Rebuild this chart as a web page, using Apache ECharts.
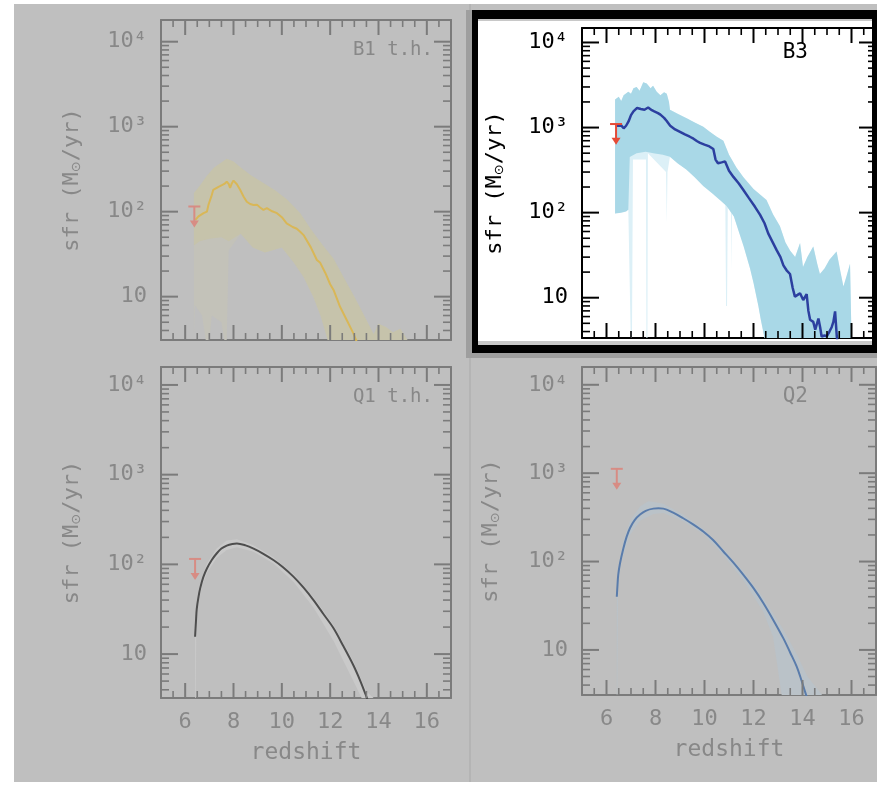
<!DOCTYPE html>
<html>
<head>
<meta charset="utf-8">
<script src="https://cdn.jsdelivr.net/npm/echarts@6/dist/echarts.min.js"></script>
<style>
  html, body { margin: 0; padding: 0; background: #ffffff; }
  #chart { width: 877px; height: 785px; }
</style>
</head>
<body>
<div id="chart"></div>
<script>
// ---------- axis ticks ----------
const redshiftMajorTicks = [6, 8, 10, 12, 14, 16];
const redshiftMinorTicks = [5.5, 6.5, 7, 7.5, 8.5, 9, 9.5, 10.5, 11, 11.5, 12.5, 13, 13.5, 14.5, 15, 15.5, 16.5];
const sfrMajorTicks = [10, 100, 1000, 10000];
const sfrMinorTicks = [4, 5, 6, 7, 8, 9, 20, 30, 40, 50, 60, 70, 80, 90,
  200, 300, 400, 500, 600, 700, 800, 900, 2000, 3000, 4000, 5000, 6000, 7000, 8000, 9000];
const sfrTickLabels = ['10', '10²', '10³', '10⁴'];
const panelNames = ['B1 t.h.', 'B3', 'Q1 t.h.', 'Q2'];

// ---------- B1 t.h. ----------
const b1Redshift = [6.42, 6.55, 6.62, 6.76, 6.9, 6.97, 7.08, 7.16, 7.24, 7.38,
  7.52, 7.62, 7.72, 7.8, 7.86, 7.93, 8.0, 8.14, 8.28, 8.42,
  8.55, 8.69, 8.83, 8.97, 9.1, 9.24, 9.38, 9.6, 9.8, 10.0,
  10.2, 10.45, 10.62, 10.76, 10.9, 11.2, 11.45, 11.59, 11.8, 12.0,
  12.14, 12.41, 12.7, 12.96, 13.2];
const b1Sfr = [80, 88, 91, 96, 100, 122, 150, 180, 187, 196,
  205, 212, 225, 212, 190, 215, 232, 210, 180, 150,
  131, 123, 120, 121, 112, 105, 110, 101, 96, 86,
  73, 66, 63, 58, 53, 38, 27, 25, 19, 14,
  12, 7.6, 5.2, 3.7, 2.5];
const b1BandUpper = [[6.36, 165], [6.6, 200], [6.9, 265], [7.2, 330], [7.5, 380], [7.72, 420], [8.0, 390],
  [8.3, 330], [8.7, 270], [9.2, 220], [9.7, 180], [10.2, 140], [10.76, 96], [11.2, 62], [11.7, 40],
  [12.14, 28], [12.6, 16], [13.0, 10], [13.5, 5.3], [13.8, 3.6], [14.0, 4.8], [14.3, 4.4], [14.6, 3.8],
  [14.9, 4.2], [15.2, 1]];
const b1BandLower = [[6.36, 40], [6.6, 45], [7.0, 48], [7.5, 50], [7.8, 45], [8.3, 55], [8.8, 38], [9.3, 33],
  [10.0, 38], [10.5, 25], [10.9, 17], [11.3, 10], [11.6, 6], [11.9, 3], [12.1, 1], [15.2, 1]];
const b1OutlierLower = [[6.36, 1], [6.4, 8], [6.7, 6], [6.85, 1], [7.0, 1], [7.1, 6], [7.5, 5], [7.62, 1],
  [7.72, 1], [7.8, 35], [8.3, 55], [8.8, 38], [9.3, 33], [10.0, 38], [10.5, 25], [10.9, 17], [11.3, 10],
  [11.6, 6], [11.9, 3], [12.1, 1], [15.2, 1]];
const b1Limit = [6.38, 115, 65];

// ---------- B3 ----------
const b3Redshift = [6.42, 6.5, 6.6, 6.7, 6.8, 6.9, 7.0, 7.1, 7.25, 7.4,
  7.55, 7.7, 7.85, 7.95, 8.1, 8.2, 8.35, 8.45, 8.6, 8.8,
  9.0, 9.2, 9.4, 9.55, 9.7, 9.82, 10.0, 10.2, 10.36, 10.45,
  10.55, 10.7, 10.84, 11.0, 11.18, 11.4, 11.58, 11.8, 12.06, 12.27,
  12.45, 12.6, 12.78, 12.95, 13.1, 13.22, 13.35, 13.49, 13.6, 13.69,
  13.8, 13.9, 14.03, 14.17, 14.24, 14.31, 14.44, 14.52, 14.65, 14.72,
  14.78, 14.9, 14.99, 15.1, 15.19, 15.26, 15.33, 15.4, 15.46];
const b3Sfr = [1050, 1100, 1060, 980, 1050, 1180, 1400, 1550, 1700, 1650,
  1620, 1720, 1600, 1550, 1480, 1420, 1300, 1200, 1050, 950,
  890, 830, 780, 740, 690, 660, 630, 600, 560, 420,
  380, 390, 400, 310, 263, 220, 186, 150, 117, 94,
  75, 57, 45, 36, 30, 24, 21, 19, 13, 10.3,
  10.8, 11.3, 9.4, 11, 7, 5.5, 5.2, 4.2, 5.7, 4.5,
  3.5, 3.6, 3.5, 4, 4.5, 5.2, 6.9, 3.5, 2.5];
const b3BandUpper = [[6.35, 2130], [6.5, 2300], [6.6, 2050], [6.7, 2400], [6.89, 2640], [7.0, 2500],
  [7.1, 2900], [7.23, 3000], [7.35, 2700], [7.5, 3400], [7.64, 3300], [7.8, 2900], [7.9, 3100],
  [8.05, 2640], [8.2, 2400], [8.35, 2600], [8.46, 2500], [8.55, 2000], [8.59, 1620], [8.9, 1450],
  [9.27, 1290], [9.6, 1150], [9.95, 1020], [10.2, 900], [10.5, 780], [10.77, 700], [11.0, 480],
  [11.3, 340], [11.58, 263], [12.0, 190], [12.53, 141], [12.8, 95], [13.08, 69], [13.3, 45],
  [13.49, 36], [13.7, 30], [13.9, 44], [14.02, 23], [14.2, 30], [14.44, 40], [14.6, 25], [14.71, 19],
  [14.9, 22], [15.1, 28], [15.39, 35], [15.55, 20], [15.67, 13.5], [15.8, 18], [15.94, 25], [16.0, 1]];
const b3BandLower = [[6.35, 98], [6.6, 100], [6.8, 103], [6.89, 108], [6.95, 450], [7.23, 500],
  [7.6, 520], [7.91, 500], [8.3, 480], [8.59, 455], [8.9, 380], [9.27, 320], [9.6, 260], [9.95, 205],
  [10.3, 170], [10.63, 141], [10.9, 120], [11.2, 90], [11.4, 60], [11.6, 40], [11.86, 22], [12.0, 15],
  [12.2, 8], [12.3, 5.5], [12.45, 1], [16.0, 1]];
const b3OutlierLower = [[6.35, 98], [6.89, 108], [6.99, 1], [7.04, 1], [7.08, 420], [7.61, 420], [7.63, 1],
  [7.67, 1], [7.69, 500], [8.43, 300], [8.46, 75], [8.49, 300], [8.59, 455], [8.9, 380], [9.27, 320],
  [9.6, 260], [9.95, 205], [10.3, 170], [10.63, 141], [10.85, 125], [10.88, 8], [10.92, 8], [10.95, 120],
  [11.08, 100], [11.1, 20], [11.12, 100], [11.2, 90], [11.4, 60], [11.6, 40], [11.86, 22], [12.0, 15],
  [12.2, 8], [12.3, 5.5], [12.45, 1], [16.0, 1]];
const b3Limit = [6.39, 1100, 630];

// ---------- Q1 t.h. ----------
const q1Redshift = [6.41, 6.45, 6.48, 6.55, 6.62, 6.75, 6.9, 7.1, 7.31, 7.5,
  7.72, 7.95, 8.14, 8.5, 8.83, 9.2, 9.65, 10.05, 10.48, 10.9,
  11.31, 11.72, 12.14, 12.55, 12.96, 13.25, 13.51, 13.7];
const q1Sfr = [15.6, 24, 32, 43, 54, 72, 90, 112, 133, 150,
  162, 169, 171, 163, 150, 133, 112, 93, 73, 55,
  40, 28, 19.4, 12.2, 7.5, 5, 3.3, 2.4];
const q1BandUpper = [[6.41, 18], [6.5, 35], [6.62, 62], [6.9, 102], [7.3, 150], [7.72, 185], [8.14, 190],
  [8.83, 163], [9.65, 120], [10.48, 78], [11.31, 43], [12.14, 21], [12.96, 8.3], [13.51, 3.8], [13.8, 2.5]];
const q1BandLower = [[6.41, 1], [6.44, 1], [6.46, 22], [6.55, 38], [6.7, 58], [6.9, 80], [7.3, 118],
  [7.72, 145], [8.14, 155], [8.83, 138], [9.65, 102], [10.48, 64], [11.31, 33], [12.14, 14], [12.96, 5],
  [13.3, 2.8], [13.8, 2.5]];
const q1Limit = [6.41, 115, 67];

// ---------- Q2 ----------
const q2Redshift = [6.42, 6.45, 6.48, 6.55, 6.69, 6.82, 6.96, 7.15, 7.37, 7.6,
  7.91, 8.12, 8.32, 8.7, 9.13, 9.55, 9.95, 10.35, 10.77, 11.18,
  11.58, 12.0, 12.4, 12.8, 13.22, 13.5, 13.76, 13.95, 14.1, 14.3];
const q2Sfr = [40, 55, 71, 95, 141, 190, 240, 295, 340, 375,
  397, 400, 397, 360, 309, 262, 219, 175, 130, 97,
  71, 50, 34, 22, 13.5, 9.3, 6.5, 4.6, 3.4, 2.3];
const q2BandUpper = [[6.42, 45], [6.5, 90], [6.7, 175], [6.96, 290], [7.37, 420], [7.7, 480], [8.0, 470],
  [8.32, 450], [9.13, 340], [9.95, 235], [10.77, 140], [11.58, 78], [12.4, 39], [13.22, 17], [13.76, 9],
  [14.2, 5], [14.8, 3]];
const q2BandLower = [[6.42, 1], [6.44, 1], [6.47, 50], [6.6, 100], [6.96, 200], [7.37, 290], [7.91, 345],
  [8.32, 355], [9.13, 285], [9.95, 205], [10.77, 118], [11.58, 62], [12.4, 27], [12.8, 14], [13.15, 2],
  [14.8, 2]];
const q2Limit = [6.42, 1120, 650];

// ---------- panel styling ----------
const FONT = '"DejaVu Sans Mono", "DejaVu Sans", monospace';
const fadedFrame = '#7b7b7b';
const fadedText = '#888888';
const fadedRed = '#d78c84';
const X_MIN = 5, X_MAX = 17;

const panels = [
  { name: panelNames[0], grid: { left: 161, top: 20, width: 290, height: 320 }, yMin: 3.09, yMax: 18000,
    frame: fadedFrame, text: fadedText, showRedshift: false, nameGap: 78, labelX: 433, labelY: 50, labelSize: 19,
    z: b1Redshift, sfr: b1Sfr, upper: b1BandUpper, lower: b1BandLower, outlierLower: b1OutlierLower,
    limit: b1Limit, lineColor: '#d9b757', lineWidth: 2, bandColor: '#c6c3ab', outlierColor: '#c3c2b9',
    red: fadedRed, smooth: false },
  { name: panelNames[1], grid: { left: 582, top: 28, width: 294, height: 310 }, yMin: 3.36, yMax: 14800,
    frame: '#000000', text: '#000000', showRedshift: false, nameGap: 76, labelX: 808, labelY: 53, labelSize: 21,
    z: b3Redshift, sfr: b3Sfr, upper: b3BandUpper, lower: b3BandLower, outlierLower: b3OutlierLower,
    limit: b3Limit, lineColor: '#2c3f9f', lineWidth: 2.5, bandColor: '#a9d8e7', outlierColor: '#dcf0f7',
    red: '#e64a36', smooth: false },
  { name: panelNames[2], grid: { left: 161, top: 367, width: 290, height: 331 }, yMin: 3.24, yMax: 15850,
    frame: fadedFrame, text: fadedText, showRedshift: true, nameGap: 78, labelX: 433, labelY: 397, labelSize: 19,
    z: q1Redshift, sfr: q1Sfr, upper: q1BandUpper, lower: q1BandLower, limit: q1Limit,
    lineColor: '#4e4e4e', lineWidth: 2, bandColor: '#c9c9c9', red: fadedRed, smooth: true },
  { name: panelNames[3], grid: { left: 582, top: 367, width: 294, height: 328 }, yMin: 3.09, yMax: 15900,
    frame: fadedFrame, text: fadedText, showRedshift: true, nameGap: 80, labelX: 808, labelY: 397, labelSize: 21,
    z: q2Redshift, sfr: q2Sfr, upper: q2BandUpper, lower: q2BandLower, limit: q2Limit,
    lineColor: '#5a7cab', lineWidth: 2, bandColor: '#bac2c8', red: fadedRed, smooth: true }
];

const AXES_PER_GRID = 2;

function frameLine(p) {
  return { show: true, onZero: false, lineStyle: { color: p.frame, width: 2 } };
}

function buildXAxes(p, gi) {
  const common = { type: 'value', gridIndex: gi, min: X_MIN, max: X_MAX, splitLine: { show: false },
    axisTick: { show: false } };
  return [
    Object.assign({}, common, {
      position: 'bottom', axisLine: frameLine(p),
      axisLabel: { show: p.showRedshift, customValues: redshiftMajorTicks, margin: 13,
        color: p.text, fontSize: 22, fontFamily: FONT },
      name: p.showRedshift ? 'redshift' : '', nameLocation: 'middle', nameGap: 44,
      nameTextStyle: { color: p.text, fontSize: 23, fontFamily: FONT }
    }),
    Object.assign({}, common, { position: 'top', axisLine: frameLine(p), axisLabel: { show: false } })
  ];
}

function buildYAxes(p, gi) {
  const common = { type: 'log', logBase: 10, gridIndex: gi, min: p.yMin, max: p.yMax,
    splitLine: { show: false }, axisTick: { show: false } };
  return [
    Object.assign({}, common, {
      position: 'left', axisLine: frameLine(p),
      axisLabel: { show: true, customValues: sfrMajorTicks, margin: 14, color: p.text, fontSize: 22,
        fontFamily: FONT,
        formatter: v => sfrTickLabels[Math.round(Math.log10(v)) - 1] },
      name: 'sfr (M{s|⊙}/yr)', nameLocation: 'middle', nameRotate: 90, nameGap: p.nameGap,
      nameTextStyle: { color: p.text, fontSize: 22, fontFamily: FONT,
        rich: { s: { color: p.text, fontSize: 13, fontFamily: '"DejaVu Sans", sans-serif', verticalAlign: 'bottom' } } }
    }),
    Object.assign({}, common, { position: 'right', axisLine: frameLine(p), axisLabel: { show: false } })
  ];
}

// inward tick marks on the four frame edges, drawn as thin rectangles at the tick values
function tickSeries(p, gi, data, size, offset) {
  return {
    type: 'scatter', xAxisIndex: gi * AXES_PER_GRID, yAxisIndex: gi * AXES_PER_GRID,
    silent: true, z: 6, animation: false, clip: false,
    data: data, symbol: 'rect', symbolSize: size, symbolOffset: offset,
    itemStyle: { color: p.frame, opacity: 1 }
  };
}
function frameTicks(p, gi) {
  return [
    tickSeries(p, gi, redshiftMajorTicks.map(z => [z, p.yMin]), [2, 15], [0, -7.5]),
    tickSeries(p, gi, redshiftMajorTicks.map(z => [z, p.yMax]), [2, 15], [0, 7.5]),
    tickSeries(p, gi, redshiftMinorTicks.map(z => [z, p.yMin]), [1.6, 7], [0, -3.5]),
    tickSeries(p, gi, redshiftMinorTicks.map(z => [z, p.yMax]), [1.6, 7], [0, 3.5]),
    tickSeries(p, gi, sfrMajorTicks.map(v => [X_MIN, v]), [17, 2], [8.5, 0]),
    tickSeries(p, gi, sfrMajorTicks.map(v => [X_MAX, v]), [17, 2], [-8.5, 0]),
    tickSeries(p, gi, sfrMinorTicks.filter(v => v > p.yMin && v < p.yMax).map(v => [X_MIN, v]), [8, 1.6], [4, 0]),
    tickSeries(p, gi, sfrMinorTicks.filter(v => v > p.yMin && v < p.yMax).map(v => [X_MAX, v]), [8, 1.6], [-4, 0])
  ];
}

// keep polygon vertices inside the plotting rectangle
function clampToRect(points, cs) {
  return points.map(pt => [
    Math.min(Math.max(pt[0], cs.x), cs.x + cs.width),
    Math.min(Math.max(pt[1], cs.y), cs.y + cs.height)
  ]);
}

function bandSeries(gi, upper, lower, color, z) {
  return {
    type: 'custom', xAxisIndex: gi * AXES_PER_GRID, yAxisIndex: gi * AXES_PER_GRID,
    silent: true, z: z, animation: false,
    data: [[upper[0][0], upper[0][1]]],
    encode: { x: 0, y: 1 },
    renderItem: function (params, api) {
      const outline = upper.concat(lower.slice().reverse()).map(d => api.coord(d));
      return { type: 'polygon', shape: { points: clampToRect(outline, params.coordSys) },
        style: { fill: color } };
    }
  };
}

function limitSeries(gi, limit, color) {
  return {
    type: 'custom', xAxisIndex: gi * AXES_PER_GRID, yAxisIndex: gi * AXES_PER_GRID,
    silent: true, z: 5, animation: false,
    data: [limit],
    encode: { x: 0, y: [1, 2] },
    renderItem: function (params, api) {
      const top = api.coord([api.value(0), api.value(1)]);
      const tip = api.coord([api.value(0), api.value(2)]);
      return { type: 'group', children: [
        { type: 'line', shape: { x1: top[0] - 6, y1: top[1], x2: top[0] + 6, y2: top[1] },
          style: { stroke: color, lineWidth: 2 } },
        { type: 'line', shape: { x1: top[0], y1: top[1], x2: tip[0], y2: tip[1] - 5 },
          style: { stroke: color, lineWidth: 2 } },
        { type: 'polygon', shape: { points: [[tip[0] - 4.5, tip[1] - 7], [tip[0] + 4.5, tip[1] - 7], [tip[0], tip[1]]] },
          style: { fill: color } }
      ] };
    }
  };
}

const grids = [], xAxes = [], yAxes = [], series = [], labels = [];
panels.forEach((p, gi) => {
  grids.push(Object.assign({ outerBoundsMode: 'none', containLabel: false }, p.grid));
  xAxes.push(...buildXAxes(p, gi));
  yAxes.push(...buildYAxes(p, gi));
  if (p.outlierLower) series.push(bandSeries(gi, p.upper, p.outlierLower, p.outlierColor, 1));
  series.push(bandSeries(gi, p.upper, p.lower, p.bandColor, 2));
  series.push({
    type: 'line', xAxisIndex: gi * AXES_PER_GRID, yAxisIndex: gi * AXES_PER_GRID, z: 3,
    animation: false, silent: true,
    data: p.z.map((zv, i) => [zv, p.sfr[i]]), symbol: 'none', smooth: p.smooth ? 0.35 : false,
    clip: true, lineStyle: { color: p.lineColor, width: p.lineWidth }
  });
  series.push(limitSeries(gi, p.limit, p.red));
  series.push(...frameTicks(p, gi));
  labels.push({ type: 'text', z: 50, x: p.labelX, y: p.labelY,
    style: { text: p.name, fill: p.text, fontSize: p.labelSize, fontFamily: FONT,
      align: 'right', verticalAlign: 'middle', textAlign: 'right', textVerticalAlign: 'middle' } });
});

const backdrop = [
  { type: 'rect', z: -100, shape: { x: 14, y: 4, width: 863, height: 778 }, style: { fill: '#bfbfbf' } },
  { type: 'rect', z: -99, shape: { x: 469, y: 4, width: 2, height: 778 }, style: { fill: '#b4b4b4' } },
  { type: 'rect', z: -98, shape: { x: 466, y: 10, width: 8, height: 348 }, style: { fill: '#9e9e9e' } },
  { type: 'rect', z: -98, shape: { x: 470, y: 351, width: 407, height: 7 }, style: { fill: '#9e9e9e' } },
  { type: 'rect', z: -97, shape: { x: 476, y: 18, width: 398, height: 330 }, style: { fill: '#c8c8c8' } },
  { type: 'rect', z: -96, shape: { x: 478, y: 21, width: 394, height: 320 }, style: { fill: '#ffffff' } },
  // black highlight border, drawn over the panel edges
  { type: 'rect', z: 100, shape: { x: 472, y: 10, width: 405, height: 9 }, style: { fill: '#000000' } },
  { type: 'rect', z: 100, shape: { x: 472, y: 345, width: 405, height: 8 }, style: { fill: '#000000' } },
  { type: 'rect', z: 100, shape: { x: 472, y: 10, width: 6, height: 343 }, style: { fill: '#000000' } },
  { type: 'rect', z: 100, shape: { x: 872, y: 10, width: 5, height: 343 }, style: { fill: '#000000' } }
];

const chart = echarts.init(document.getElementById('chart'), null, { renderer: 'canvas', width: 877, height: 785 });
chart.setOption({
  animation: false,
  grid: grids,
  xAxis: xAxes,
  yAxis: yAxes,
  series: series,
  graphic: backdrop.concat(labels)
});
</script>
</body>
</html>
